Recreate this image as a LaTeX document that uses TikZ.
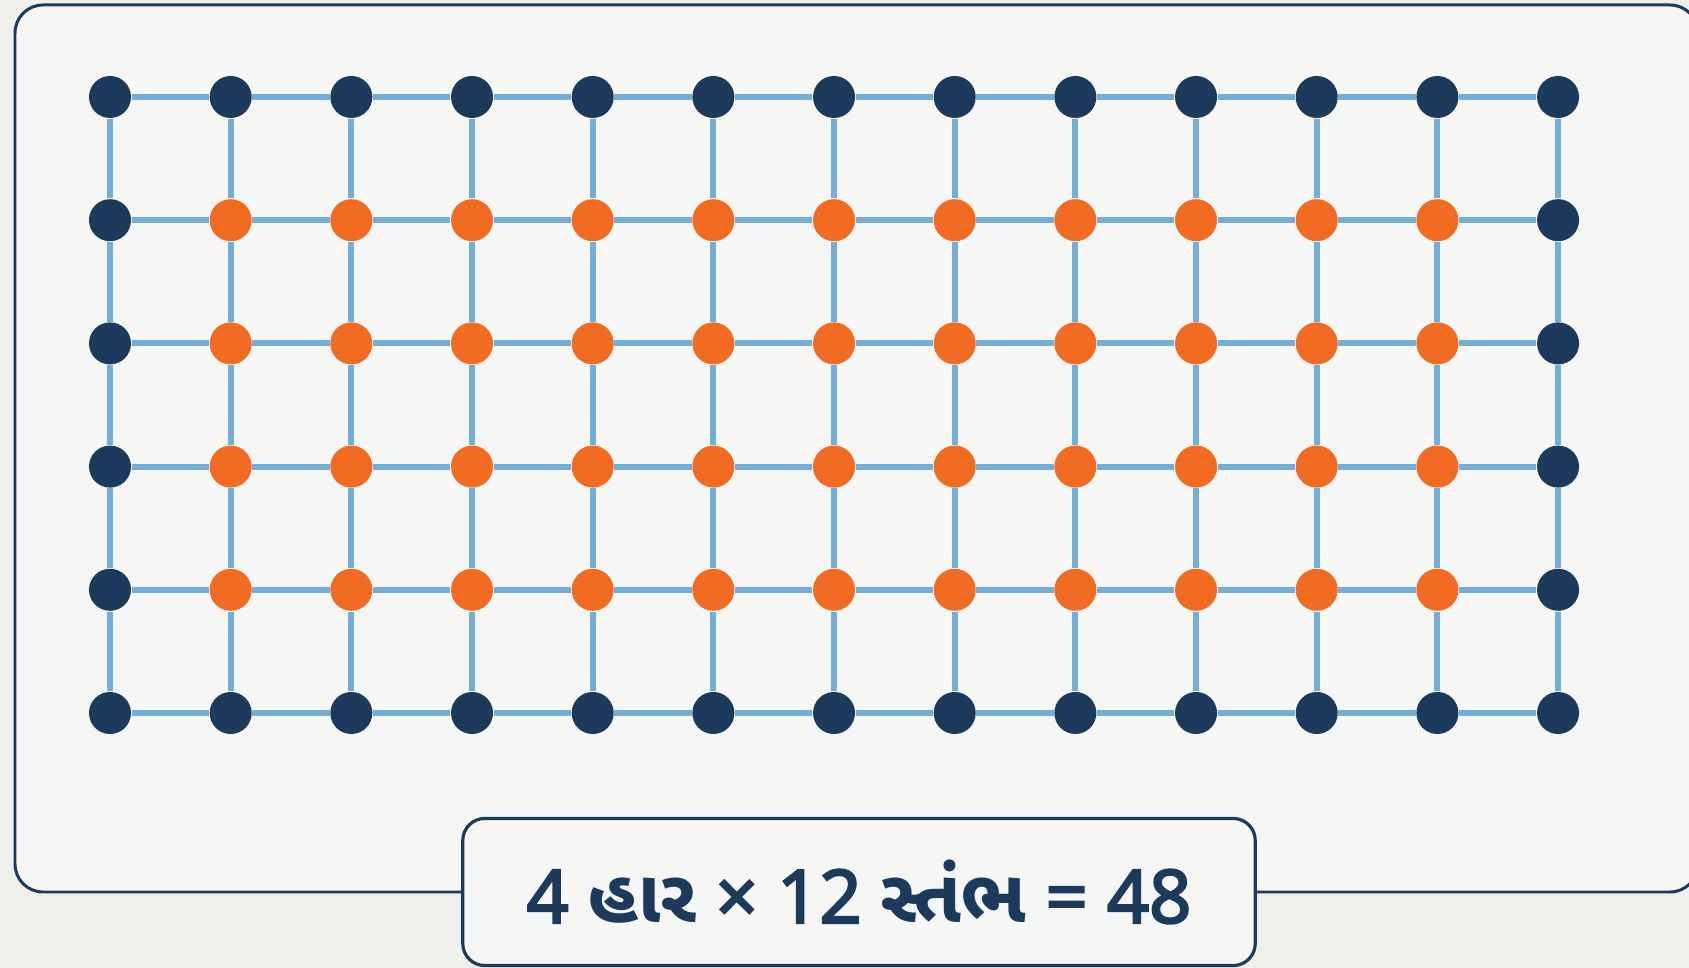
\documentclass[tikz,border=0pt]{standalone}
\usepackage{fontspec}
\newfontfamily\capfont{Noto Sans}[FakeBold=3]
\newfontfamily\gujfont[Script=Gujarati]{Noto Sans Gujarati UI}
\usetikzlibrary{backgrounds}
\definecolor{navy}{HTML}{1B3A5C}
\definecolor{tangerine}{HTML}{F26B22}
\definecolor{gridblue}{HTML}{74ADD8}
\definecolor{paper}{HTML}{EFEFEC}
\definecolor{panel}{HTML}{F6F6F4}
\tikzstyle{griddot}  = [circle, minimum size=0.42cm, inner sep=0pt]
\tikzstyle{rimdot}   = [griddot, fill=navy]
\tikzstyle{innerdot} = [griddot, fill=tangerine]
\tikzstyle{gridline} = [draw=gridblue, line width=1.7pt]
\tikzstyle{caption}  = [rectangle, rounded corners=0.22cm, draw=navy,
                        line width=0.9pt, fill=panel, minimum width=7.92cm,
                        minimum height=1.47cm, text=navy,
                        font=\capfont\fontsize{21}{25}\selectfont]

\begin{document}
\begin{tikzpicture}[x=0.01cm, y=-0.01cm]

  \useasboundingbox (0,0) rectangle (1689,968);

  % Dots
  \foreach \c in {0,...,12}{
    \foreach \r in {0,...,5}{
      \pgfmathtruncatemacro\inner{and(and(\c>0,\c<12),and(\r>0,\r<5))}
      \ifnum\inner=1 \def\kind{innerdot}\else\def\kind{rimdot}\fi
      \node[\kind] (d-\c-\r) at ({110+\c*120.67},{97+\r*123.2}) {};
    }
  }

  \begin{pgfonlayer}{background}
    % Paper and frame
    \fill[paper] (0,0) rectangle (1689,968);
    \draw[navy, line width=0.85pt, fill=panel, rounded corners=0.28cm]
         (15,5) rectangle (1698,892);

    % Grid lines
    \foreach \c in {0,...,12}{
      \foreach \r/\s in {0/1,1/2,2/3,3/4,4/5}{
        \draw[gridline] (d-\c-\r) -- (d-\c-\s);
      }
    }
    \foreach \r in {0,...,5}{
      \foreach \c/\s in {0/1,1/2,2/3,3/4,4/5,5/6,6/7,7/8,8/9,9/10,10/11,11/12}{
        \draw[gridline] (d-\c-\r) -- (d-\s-\r);
      }
    }
  \end{pgfonlayer}

  % Caption
  \node[caption] (tally) at (859,892)
        {4 {\gujfont\bfseries હાર} × 12 {\gujfont\bfseries સ્તંભ} = 48};

\end{tikzpicture}
\end{document}
